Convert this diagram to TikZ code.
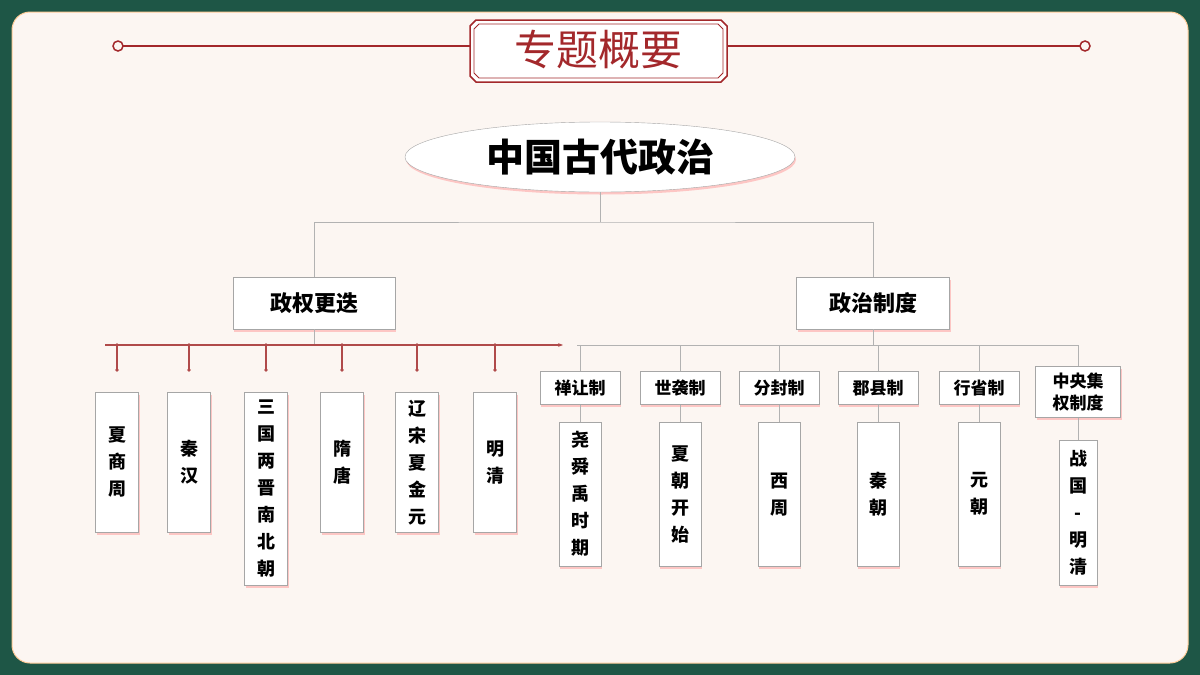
\documentclass[tikz,border=0pt]{standalone}
\usepackage{fontspec}
\setmainfont{Noto Sans CJK SC}
\usetikzlibrary{positioning,shadows,shapes.geometric,arrows.meta}
\definecolor{bgreen}{HTML}{1E5646}
\definecolor{cream}{HTML}{FCF6F2}
\definecolor{dred}{HTML}{A3282B}
\definecolor{lred}{HTML}{B04A4A}
\begin{document}
\begin{tikzpicture}[x=1pt,y=-1pt,
  pshadow/.style={drop shadow={shadow xshift=1pt,shadow yshift=-2.5pt,fill=red!45,opacity=.45}},
  mainnode/.style={ellipse,draw=gray!70,fill=white,minimum width=390pt,minimum height=70pt,
    font=\fontsize{38}{40}\selectfont\bfseries,pshadow},
  branch/.style={rectangle,draw=gray!70,fill=white,minimum height=52pt,
    font=\fontsize{22}{24}\selectfont\bfseries,pshadow},
  headbox/.style={rectangle,draw=gray!70,fill=white,minimum width=80pt,minimum height=33pt,inner sep=2pt,
    font=\fontsize{17}{20}\selectfont\bfseries,pshadow},
  erabox/.style={rectangle,draw=gray!70,fill=white,minimum width=43pt,inner sep=1pt,align=center,
    font=\fontsize{18}{27}\selectfont\bfseries,pshadow},
  link/.style={draw=gray!60,line width=0.8pt},
  rline/.style={draw=lred,line width=1.2pt}]
% background
\fill[bgreen] (0,0) rectangle (1200,675);
\fill[cream,draw=orange!40,line width=1pt,rounded corners=18pt] (12,12) rectangle (1188,663);
% title bar
\draw[dred,line width=2pt] (122,46) -- (471,46);
\draw[dred,line width=2pt] (727,46) -- (1081,46);
\draw[dred,line width=1.5pt,fill=cream] (118,46) circle (5pt);
\draw[dred,line width=1.5pt,fill=cream] (1085,46) circle (5pt);
\draw[dred,line width=1.5pt,fill=white] (476,20) -- (721,20) -- (727,26) -- (727,76) -- (721,82)
  -- (476,82) -- (470,76) -- (470,26) -- cycle;
\draw[dred,line width=0.8pt] (479,24) -- (718,24) -- (723,29) -- (723,73) -- (718,78)
  -- (479,78) -- (474,73) -- (474,29) -- cycle;
\node[text=dred,font=\fontsize{42}{44}\selectfont] (title) at (598,50) {专题概要};
% tree
\node[mainnode] (root) at (600,157) {中国古代政治};
\node[branch,minimum width=162pt] (regime) at (314,303) {政权更迭};
\node[branch,minimum width=153pt] (system) at (873,303) {政治制度};
\coordinate (rj) at (600,222);
\draw[link] (root.south) -- (rj);
\draw[link] (regime.north) |- (rj) -| (system.north);
% regime timeline
\coordinate (tl0) at (105,345);
\coordinate (tl1) at (563,345);
\draw[link] (regime.south) -- (regime.south |- tl0);
\draw[rline,-{Stealth[length=5pt]}] (tl0) -- (tl1);
\foreach \x/\name/\txt/\h in {117/xia/夏\\商\\周/140,189/qin/秦\\汉/140,
  266/sanguo/三\\国\\两\\晋\\南\\北\\朝/193,342/sui/隋\\唐/140,
  417/liao/辽\\宋\\夏\\金\\元/140,495/ming/明\\清/140}{
  \draw[rline] (\x,345) -- (\x,370);
  \fill[lred] (\x,345) circle (1.8pt) (\x,370) circle (1.8pt);
  \node[erabox,minimum height=\h pt,anchor=north] (\name) at (\x,392) {\txt};
}
% system branches
\coordinate (sj) at (873,345);
\draw[link] (system.south) -- (sj);
\draw[link] (577,345) -- (1078,345);
\foreach \x/\name/\txt/\sub/\y/\h in {580/shan/禅让制/尧\\舜\\禹\\时\\期/422/144,
  680/shi/世袭制/夏\\朝\\开\\始/422/144,779/fen/分封制/西\\周/422/144,
  878/jun/郡县制/秦\\朝/422/144,979/xing/行省制/元\\朝/422/144}{
  \node[headbox] (\name) at (\x,388) {\txt};
  \draw[link] (\x,345) -- (\name.north);
  \node[erabox,minimum height=\h pt,anchor=north,minimum width=42pt] (\name sub) at (\x,\y) {\sub};
  \draw[link] (\name.south) -- (\name sub.north);
}
\node[headbox,minimum width=85pt,minimum height=51pt,align=center,
  font=\fontsize{17}{22}\selectfont\bfseries] (zhong) at (1078,392) {中央集\\权制度};
\draw[link] (1078,345) -- (zhong.north);
\node[erabox,minimum height=145pt,minimum width=38pt,anchor=north] (zhongsub) at (1078,440)
  {战\\国\\-\\明\\清};
\draw[link] (zhong.south) -- (zhongsub.north);
\end{tikzpicture}
\end{document}
